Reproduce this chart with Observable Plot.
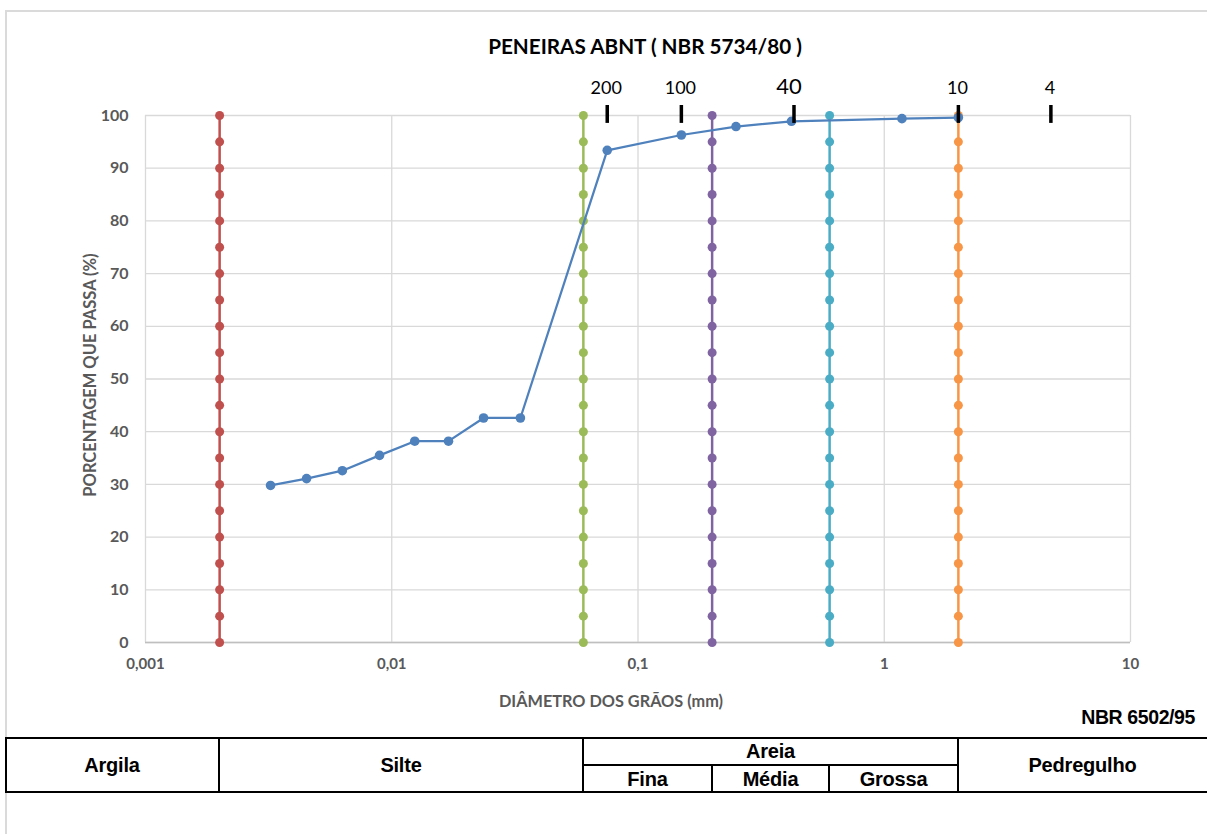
<!DOCTYPE html>
<html>
<head>
<meta charset="utf-8">
<script src="https://cdn.jsdelivr.net/npm/d3@7"></script>
<script src="https://cdn.jsdelivr.net/npm/@observablehq/plot@0.6"></script>
<style>
  html, body { margin: 0; padding: 0; background: #fff; }
  body { width: 1207px; height: 834px; position: relative; overflow: hidden; font-family: Lato, "Open Sans", sans-serif; }
  #frame { position: absolute; left: 5px; top: 10px; width: 1220px; height: 840px; border-top: 2px solid #dadada; border-left: 2px solid #dadada; box-sizing: border-box; }
  #chart { position: absolute; left: 0; top: 0; }
  #title { position: absolute; left: 0; width: 1290px; top: 34px; text-align: center; font-weight: bold; font-size: 20.7px; color: #000; }
  #ylabel { position: absolute; left: 90px; top: 375px; transform: translate(-50%, -50%) rotate(-90deg); white-space: nowrap; font-weight: bold; font-size: 16.5px; color: #595959; }
  #xlabel { position: absolute; left: 611px; top: 700px; transform: translate(-50%, -50%); white-space: nowrap; font-weight: bold; font-size: 16.3px; color: #595959; }
  #norm { position: absolute; right: 12px; top: 706px; font-family: "Liberation Sans", Arial, sans-serif; font-weight: bold; font-size: 19.5px; letter-spacing: -0.4px; color: #000; }
  .hl { position: absolute; height: 2px; background: #000; }
  .vl { position: absolute; width: 2px; background: #000; }
  .cell { position: absolute; display: flex; align-items: center; justify-content: center; font-family: "Liberation Sans", Arial, sans-serif; font-weight: bold; font-size: 20px; color: #000; letter-spacing: -0.2px; }
</style>
</head>
<body>
<div id="frame"></div>
<div id="chart"></div>
<div id="title">PENEIRAS ABNT ( NBR 5734/80 )</div>
<div id="ylabel">PORCENTAGEM QUE PASSA (%)</div>
<div id="xlabel">DIÂMETRO DOS GRÃOS (mm)</div>
<div id="norm">NBR 6502/95</div>
<div id="table"></div>
<script>
// Grain size distribution curve (mm, % passing)
const grainSize = [0.00322, 0.00451, 0.0063, 0.00892, 0.0124, 0.017, 0.0236, 0.0333, 0.075, 0.15, 0.25, 0.42, 1.18, 2.0];
const percentPassing = [29.8, 31.1, 32.6, 35.5, 38.2, 38.2, 42.6, 42.6, 93.4, 96.3, 97.9, 98.9, 99.4, 99.6];

// Soil class boundaries (NBR 6502/95), each drawn as a vertical dotted series
const boundarySizes = [0.002, 0.06, 0.2, 0.6, 2.0];
const boundaryColors = ["#C0504D", "#9BBB59", "#8064A2", "#4BACC6", "#F79646"];
const boundaryLevels = [0, 5, 10, 15, 20, 25, 30, 35, 40, 45, 50, 55, 60, 65, 70, 75, 80, 85, 90, 95, 100];

// Sieves (ABNT NBR 5734/80)
const sieveLabels = ["200", "100", "40", "10", "4"];
const sieveSizes = [0.075, 0.15, 0.43, 2.0, 4.75];

// Axis ticks
const xTicks = [0.001, 0.01, 0.1, 1, 10];
const yTicks = [0, 10, 20, 30, 40, 50, 60, 70, 80, 90, 100];

// Classification table labels
const classNames = ["Argila", "Silte", "Areia", "Pedregulho"];
const sandNames = ["Fina", "Média", "Grossa"];

const curve = grainSize.map((d, i) => ({d, p: percentPassing[i]}));
const boundaries = [];
boundarySizes.forEach((d, i) => boundaryLevels.forEach(p => boundaries.push({d, p, k: i})));
const sieves = sieveSizes.map((d, i) => ({d, label: sieveLabels[i]}));

const fmt = v => String(v).replace(".", ",");

const plot = Plot.plot({
  width: 1207,
  height: 730,
  marginLeft: 145,
  marginRight: 77,
  marginTop: 115,
  marginBottom: 88,
  style: {fontFamily: "Lato, 'Open Sans', sans-serif", overflow: "visible", background: "transparent"},
  x: {type: "log", domain: [0.001, 10]},
  y: {domain: [0, 100]},
  marks: [
    Plot.gridX(xTicks, {stroke: "#d9d9d9", strokeOpacity: 1, strokeWidth: 1.3}),
    Plot.gridY(yTicks, {stroke: "#d9d9d9", strokeOpacity: 1, strokeWidth: 1.3}),
    Plot.ruleY([0], {stroke: "#bfbfbf", strokeWidth: 1.5}),
    Plot.axisX(xTicks, {tickSize: 0, tickPadding: 16, tickFormat: fmt, fontSize: 15, fontWeight: "bold", fill: "#595959", label: null}),
    Plot.axisY(yTicks, {tickSize: 0, tickPadding: 17, fontSize: 16, fontWeight: "bold", fill: "#595959", label: null}),
    ...boundarySizes.map((b, i) => Plot.line(boundaries.filter(r => r.k === i), {x: "d", y: "p", stroke: boundaryColors[i], strokeWidth: 2.5})),
    ...boundarySizes.map((b, i) => Plot.dot(boundaries.filter(r => r.k === i), {x: "d", y: "p", fill: boundaryColors[i], r: 4.5, stroke: "none"})),
    Plot.line(curve, {x: "d", y: "p", stroke: "#4F81BD", strokeWidth: 2.25}),
    Plot.dot(curve, {x: "d", y: "p", fill: "#4F81BD", r: 4.8, stroke: "none"}),
    Plot.ruleX(sieves, {x: "d", y1: 98.5, y2: 101.9, stroke: "#000", strokeWidth: 3.5}),
    Plot.text(sieves.filter(s => s.label !== "40"), {x: "d", y: 105.2, text: "label", fontSize: 18, fill: "#000", dx: -1}),
    Plot.text(sieves.filter(s => s.label === "40"), {x: "d", y: 105.4, text: "label", fontSize: 22, fill: "#000", dx: -5})
  ]
});
document.getElementById("chart").appendChild(plot);

// Classification table, aligned with the boundary sizes on the x scale
const xs = plot.scale("x");
const bx = boundarySizes.map(d => Math.round(xs.apply(d)));
const tbl = document.getElementById("table");
const yTop = 737, yMid = 764, yBot = 791, xLeft = 5, xRight = 1230;
function add(cls, style, text) {
  const el = document.createElement("div");
  el.className = cls;
  Object.assign(el.style, style);
  if (text) el.textContent = text;
  tbl.appendChild(el);
}
add("hl", {left: xLeft + "px", top: yTop + "px", width: (xRight - xLeft) + "px"});
add("hl", {left: xLeft + "px", top: yBot + "px", width: (xRight - xLeft) + "px"});
add("hl", {left: (bx[1] - 1) + "px", top: yMid + "px", width: (bx[4] - bx[1] + 2) + "px"});
[xLeft + 1, bx[0], bx[1], bx[4]].forEach(x => add("vl", {left: (x - 1) + "px", top: yTop + "px", height: (yBot - yTop + 2) + "px"}));
[bx[2], bx[3]].forEach(x => add("vl", {left: (x - 1) + "px", top: yMid + "px", height: (yBot - yMid + 2) + "px"}));
const cell = (x0, x1, y0, y1, t) => add("cell", {left: x0 + "px", width: (x1 - x0) + "px", top: y0 + "px", height: (y1 - y0) + "px"}, t);
cell(xLeft, bx[0], yTop, yBot + 2, classNames[0]);
cell(bx[0], bx[1], yTop, yBot + 2, classNames[1]);
cell(bx[1], bx[4], yTop, yMid + 1, classNames[2]);
cell(bx[4], 1207, yTop, yBot + 2, classNames[3]);
cell(bx[1], bx[2], yMid + 1, yBot + 2, sandNames[0]);
cell(bx[2], bx[3], yMid + 1, yBot + 2, sandNames[1]);
cell(bx[3], bx[4], yMid + 1, yBot + 2, sandNames[2]);
</script>
</body>
</html>
